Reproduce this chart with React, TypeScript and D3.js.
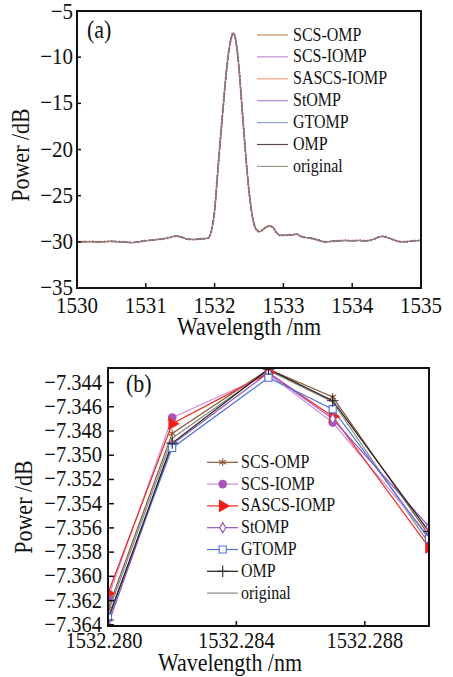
import React from 'react';
import * as d3 from 'd3';

// panel (a): full spectrum
const spectrumWl = [
  1530.0, 1530.1, 1530.2, 1530.3, 1530.4, 1530.5, 1530.6, 1530.7, 1530.8, 1530.9,
  1531.0, 1531.1, 1531.2, 1531.3, 1531.4, 1531.45, 1531.5, 1531.6, 1531.7, 1531.8,
  1531.9, 1531.95, 1532.0, 1532.05, 1532.1, 1532.15, 1532.2, 1532.25, 1532.27, 1532.3,
  1532.35, 1532.4, 1532.45, 1532.5, 1532.55, 1532.6, 1532.65, 1532.7, 1532.75, 1532.8,
  1532.85, 1532.9, 1532.95, 1533.0, 1533.1, 1533.2, 1533.25, 1533.3, 1533.4, 1533.5,
  1533.6, 1533.7, 1533.8, 1533.9, 1534.0, 1534.1, 1534.2, 1534.3, 1534.4, 1534.45,
  1534.5, 1534.6, 1534.7, 1534.8, 1534.9, 1535.0
];
const spectrumPower = [
  -30.0, -29.98, -29.97, -30.0, -29.98, -29.95, -29.98, -30.03, -30.08, -29.98,
  -29.88, -29.8, -29.72, -29.62, -29.42, -29.38, -29.45, -29.7, -29.75, -29.68,
  -29.62, -28.9, -26.6, -22.0, -17.5, -13.2, -9.7, -7.7, -7.4, -7.9,
  -10.8, -15.6, -20.4, -24.5, -27.3, -28.6, -28.9, -28.7, -28.4, -28.3,
  -28.45, -29.0, -29.3, -29.3, -29.25, -29.18, -29.4, -29.5, -29.6, -29.8,
  -30.0, -29.95, -29.9, -29.85, -29.88, -29.85, -29.9, -29.75, -29.45, -29.4,
  -29.5, -29.78, -29.98, -29.98, -29.88, -29.85
];
const xTicksA = [1530, 1531, 1532, 1533, 1534, 1535];
const yTicksA = [-35, -30, -25, -20, -15, -10, -5];

// panel (b): zoom on the peak
const seriesNames = ['SCS-OMP', 'SCS-IOMP', 'SASCS-IOMP', 'StOMP', 'GTOMP', 'OMP', 'original'];
const zoomWl = [1532.28, 1532.282, 1532.285, 1532.287, 1532.29];
const scsOmp = [-7.3627, -7.3482, -7.3429, -7.3452, -7.3566];
const scsIomp = [-7.3618, -7.3469, -7.3433, -7.3473, -7.3567];
const sascsIomp = [-7.3614, -7.3474, -7.3432, -7.3468, -7.3576];
const stOmp = [-7.364, -7.3491, -7.3432, -7.347, -7.3559];
const gtOmp = [-7.3634, -7.3494, -7.3436, -7.3462, -7.3569];
const omp = [-7.3636, -7.349, -7.3429, -7.3455, -7.3563];
const original = [-7.363, -7.3486, -7.343, -7.3456, -7.3573];
const xTicksB = [1532.28, 1532.284, 1532.288];
const yTicksB = [-7.344, -7.346, -7.348, -7.35, -7.352, -7.354, -7.356, -7.358, -7.36, -7.362, -7.364];

const colorsA = ['#c58f68', '#b98fd2', '#f59a80', '#ad8ad0', '#8e9fe2', '#5a4848', '#9a9c8c'];
const colorsB = ['#8b5a3a', '#cf8ee0', '#f02a1e', '#9452b4', '#5070e0', '#202020', '#8a8a80'];
const markerFill = ['none', '#a955b8', '#ee1c14', 'white', 'white', 'none', 'none'];

const FONT = '"Liberation Serif", "Times New Roman", serif';

function Txt({ x, y, size, anchor = 'start', rotate = false, children }: any) {
  return (
    <text
      transform={`translate(${x},${y})${rotate ? ' rotate(-90)' : ''} scale(1,1.12)`}
      fontSize={size}
      fontFamily={FONT}
      textAnchor={anchor}
      fill="#111"
    >
      {children}
    </text>
  );
}

const minus = (s: string) => s.replace('-', '\u2212');

function PanelA() {
  const L = 77, R = 421, T = 11, B = 288;
  const x = d3.scaleLinear().domain([1530, 1535]).range([L, R]);
  const y = d3.scaleLinear().domain([-35, -5]).range([B, T]);
  const pts = spectrumWl.map((w, i) => [w, spectrumPower[i]] as [number, number]);
  const line = d3.line<[number, number]>().x(d => x(d[0])).y(d => y(d[1])).curve(d3.curveMonotoneX);
  const path = line(pts) || '';
  const legendY = (i: number) => 35 + i * 21.9;
  return (
    <g>
      <defs>
        <clipPath id="clipA"><rect x={L} y={T} width={R - L} height={B - T} /></clipPath>
      </defs>
      <g clipPath="url(#clipA)" fill="none">
        <path d={path} stroke={colorsA[0]} strokeWidth={1.2} />
        <path d={path} stroke={colorsA[1]} strokeWidth={1.2} />
        <path d={path} stroke="#f03a28" strokeWidth={2.2} strokeDasharray="1.5 3 1 2" />
        <path d={path} stroke={colorsA[3]} strokeWidth={1} />
        <path d={path} stroke={colorsA[4]} strokeWidth={1} />
        <path d={path} stroke={colorsA[5]} strokeWidth={1.1} />
        <path d={path} stroke={colorsA[6]} strokeWidth={0.8} />
      </g>
      {xTicksA.slice(1, -1).map(t => (
        <line key={t} x1={x(t)} x2={x(t)} y1={B} y2={B - 5} stroke="#111" strokeWidth={1.5} />
      ))}
      {yTicksA.slice(1, -1).map(t => (
        <line key={t} x1={L} x2={L + 4} y1={y(t)} y2={y(t)} stroke="#111" strokeWidth={1.5} />
      ))}
      <rect x={L} y={T} width={R - L} height={B - T} fill="none" stroke="#111" strokeWidth={2} />
      {xTicksA.map(t => (
        <Txt key={t} x={x(t)} y={313} size={21} anchor="middle">{t}</Txt>
      ))}
      {yTicksA.map(t => (
        <Txt key={t} x={73} y={y(t) + (t === -5 ? 8 : 7)} size={21} anchor="end">{minus(String(t))}</Txt>
      ))}
      <Txt x={249} y={335} size={22} anchor="middle">Wavelength /nm</Txt>
      <Txt x={29} y={155} size={22} anchor="middle" rotate>Power /dB</Txt>
      <Txt x={87} y={38} size={22}>(a)</Txt>
      {seriesNames.map((n, i) => (
        <g key={n}>
          <line x1={257} x2={288} y1={legendY(i)} y2={legendY(i)} stroke={colorsA[i]} strokeWidth={1.2} />
          <Txt x={293} y={legendY(i) + 5.5} size={16}>{n}</Txt>
        </g>
      ))}
    </g>
  );
}

const symbolTypes = [d3.symbolAsterisk, d3.symbolCircle, d3.symbolTriangle, d3.symbolDiamond, d3.symbolSquare, d3.symbolPlus, null];
const symbolSizes = [45, 60, 55, 30, 50, 45, 0];

function Marker({ i, cx, cy }: any) {
  const t = symbolTypes[i];
  if (!t) return null;
  const d = d3.symbol(t as any, symbolSizes[i])() || '';
  const rot = i === 2 ? ' rotate(90)' : '';
  return (
    <path
      d={d}
      transform={`translate(${cx},${cy})${rot}`}
      fill={markerFill[i]}
      stroke={i === 1 ? 'none' : colorsB[i]}
      strokeWidth={1.1}
    />
  );
}

function PanelB() {
  const L = 108, R = 429, T = 368, B = 626;
  const x = d3.scaleLinear().domain([1532.28, 1532.29]).range([L, R]);
  const y = d3.scaleLinear().domain([-7.3641, -7.3428]).range([B, T]);
  const series = [scsOmp, scsIomp, sascsIomp, stOmp, gtOmp, omp, original];
  const line = d3.line<number>().x((_, i) => x(zoomWl[i])).y(d => y(d));
  const legendY = (i: number) => 462.3 + i * 21.8;
  return (
    <g>
      <defs>
        <clipPath id="clipB"><rect x={L} y={T} width={R - L} height={B - T} /></clipPath>
      </defs>
      <g clipPath="url(#clipB)">
        {[6, 0, 1, 2, 3, 4, 5].map(k => (
          <path key={k} d={line(series[k]) || ''} fill="none" stroke={colorsB[k]} strokeWidth={1.2} />
        ))}
        {[0, 1, 2, 3, 4, 5].map(k =>
          series[k].map((v, j) => <Marker key={k + '-' + j} i={k} cx={x(zoomWl[j])} cy={y(v)} />)
        )}
      </g>
      {xTicksB.slice(1).map(t => (
        <line key={t} x1={x(t)} x2={x(t)} y1={B} y2={B - 5} stroke="#111" strokeWidth={1.5} />
      ))}
      {yTicksB.map(t => (
        <line key={t} x1={L} x2={L + 6} y1={y(t)} y2={y(t)} stroke="#111" strokeWidth={1.5} />
      ))}
      <rect x={L} y={T} width={R - L} height={B - T} fill="none" stroke="#111" strokeWidth={2} />
      {xTicksB.map(t => (
        <Txt key={t} x={x(t) - (t === 1532.28 ? 4 : 0)} y={648} size={20.5} anchor="middle">{t.toFixed(3)}</Txt>
      ))}
      {yTicksB.map(t => (
        <Txt key={t} x={102} y={y(t) + 7} size={20.5} anchor="end">{minus(t.toFixed(3))}</Txt>
      ))}
      <Txt x={230} y={671} size={22} anchor="middle">Wavelength /nm</Txt>
      <Txt x={32} y={507} size={22} anchor="middle" rotate>Power /dB</Txt>
      <Txt x={126} y={392} size={22}>(b)</Txt>
      {seriesNames.map((n, i) => (
        <g key={n}>
          <line x1={207} x2={238} y1={legendY(i)} y2={legendY(i)} stroke={colorsB[i]} strokeWidth={1.2} />
          <Marker i={i} cx={222.7} cy={legendY(i)} />
          <Txt x={241} y={legendY(i) + 5.5} size={16}>{n}</Txt>
        </g>
      ))}
    </g>
  );
}

export default function App() {
  return (
    <svg
      width={453}
      height={677}
      style={{ position: 'absolute', left: 0, top: 0, background: 'white' }}
    >
      <rect width={453} height={677} fill="white" />
      <PanelA />
      <PanelB />
    </svg>
  );
}
